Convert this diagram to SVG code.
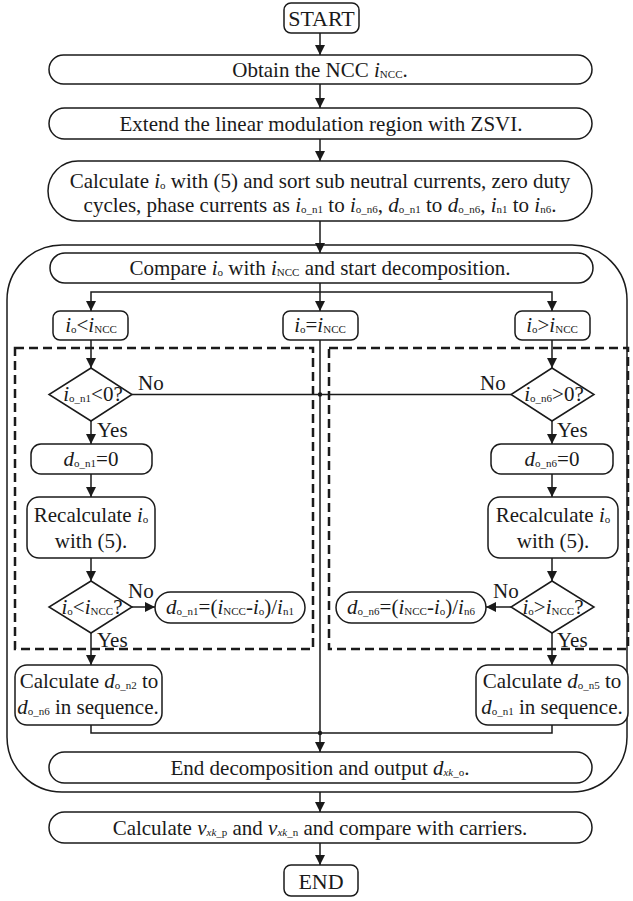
<svg xmlns="http://www.w3.org/2000/svg" width="633" height="901" viewBox="0 0 633 901">
<style>
text{font-family:"Liberation Serif","Times New Roman",serif;font-size:21px;fill:#1a1a1a}
.c{text-anchor:middle}
.i{font-style:italic}
.s{font-size:11px}
.big{font-size:22px}
.box{fill:#fff;stroke:#1a1a1a;stroke-width:1.5}
.ln{fill:none;stroke:#1a1a1a;stroke-width:1.5}
.dash{fill:none;stroke:#1a1a1a;stroke-width:2.5;stroke-dasharray:9 5}
</style>
<defs>
<marker id="ah" markerUnits="userSpaceOnUse" markerWidth="10" markerHeight="12" refX="10" refY="5" orient="auto">
<path d="M0,0 L10,5 L0,10 Z" fill="#1a1a1a"/>
</marker>
</defs>
<rect x="7" y="245" width="620" height="547" rx="55" ry="55" class="ln"/>
<rect x="15" y="348" width="298" height="301" class="dash"/>
<rect x="329" y="348" width="299" height="301" class="dash"/>
<g id="connectors">
<line x1="320" y1="33" x2="320" y2="55" class="ln" marker-end="url(#ah)"/>
<line x1="320" y1="84" x2="320" y2="108" class="ln" marker-end="url(#ah)"/>
<line x1="320" y1="139" x2="320" y2="161" class="ln" marker-end="url(#ah)"/>
<line x1="320" y1="221" x2="320" y2="253" class="ln" marker-end="url(#ah)"/>
<line x1="320" y1="283" x2="320" y2="311" class="ln" marker-end="url(#ah)"/>
<polyline points="320,292 91,292 91,311" class="ln" marker-end="url(#ah)"/>
<polyline points="320,292 552,292 552,311" class="ln" marker-end="url(#ah)"/>
<line x1="91" y1="340" x2="91" y2="368" class="ln" marker-end="url(#ah)"/>
<line x1="552" y1="340" x2="552" y2="368" class="ln" marker-end="url(#ah)"/>
<line x1="132" y1="394.5" x2="511" y2="394.5" class="ln"/>
<line x1="91" y1="421" x2="91" y2="444" class="ln" marker-end="url(#ah)"/>
<line x1="552" y1="421" x2="552" y2="444" class="ln" marker-end="url(#ah)"/>
<line x1="91" y1="474" x2="91" y2="497" class="ln" marker-end="url(#ah)"/>
<line x1="552" y1="474" x2="552" y2="497" class="ln" marker-end="url(#ah)"/>
<line x1="91" y1="558" x2="91" y2="581" class="ln" marker-end="url(#ah)"/>
<line x1="552" y1="558" x2="552" y2="581" class="ln" marker-end="url(#ah)"/>
<line x1="132" y1="607" x2="155" y2="607" class="ln" marker-end="url(#ah)"/>
<line x1="511" y1="607" x2="486" y2="607" class="ln" marker-end="url(#ah)"/>
<line x1="91" y1="633" x2="91" y2="665" class="ln" marker-end="url(#ah)"/>
<line x1="552" y1="633" x2="552" y2="665" class="ln" marker-end="url(#ah)"/>
<polyline points="91,725 91,733 552,733 552,725" class="ln"/>
<line x1="320" y1="340" x2="320" y2="752" class="ln" marker-end="url(#ah)"/>
<circle cx="320" cy="394.5" r="2.2" fill="#1a1a1a"/>
<circle cx="320" cy="733" r="2.2" fill="#1a1a1a"/>
<line x1="320" y1="792" x2="320" y2="812" class="ln" marker-end="url(#ah)"/>
<line x1="320" y1="843" x2="320" y2="865" class="ln" marker-end="url(#ah)"/>
</g>
<g id="start"><rect x="284" y="3" width="75" height="30" rx="7" class="box"/><text x="321.5" y="26" class="c big">START</text></g>
<g id="obtain"><rect x="49" y="55" width="543" height="29" rx="14.5" class="box"/><text x="320" y="77" class="c">Obtain the NCC <tspan class="i">i</tspan><tspan class="s" baseline-shift="-1">NCC</tspan>.</text></g>
<g id="extend"><rect x="49" y="108" width="543" height="31" rx="15.5" class="box"/><text x="321" y="131" class="c">Extend the linear modulation region with ZSVI.</text></g>
<g id="calc"><rect x="48" y="161" width="544" height="60" rx="30" class="box"/>
<text x="320" y="188" class="c">Calculate <tspan class="i">i</tspan><tspan class="s" baseline-shift="-1">o</tspan> with (5) and sort sub neutral currents, zero duty</text>
<text x="320" y="212" class="c">cycles, phase currents as <tspan class="i">i</tspan><tspan class="s" baseline-shift="-1">o_n1</tspan> to <tspan class="i">i</tspan><tspan class="s" baseline-shift="-1">o_n6</tspan>, <tspan class="i">d</tspan><tspan class="s" baseline-shift="-1">o_n1</tspan> to <tspan class="i">d</tspan><tspan class="s" baseline-shift="-1">o_n6</tspan>, <tspan class="i">i</tspan><tspan class="s" baseline-shift="-1">n1</tspan> to <tspan class="i">i</tspan><tspan class="s" baseline-shift="-1">n6</tspan>.</text></g>
<g id="compare"><rect x="50" y="253" width="543" height="30" rx="15" class="box"/><text x="320" y="275" class="c">Compare <tspan class="i">i</tspan><tspan class="s" baseline-shift="-1">o</tspan> with <tspan class="i">i</tspan><tspan class="s" baseline-shift="-1">NCC</tspan> and start decomposition.</text></g>
<g id="lt"><rect x="53" y="311" width="75" height="29" rx="7" class="box"/><text x="91" y="332" class="c"><tspan class="i">i</tspan><tspan class="s" baseline-shift="-1">o</tspan>&lt;<tspan class="i">i</tspan><tspan class="s" baseline-shift="-1">NCC</tspan></text></g>
<g id="eq"><rect x="283" y="311" width="75" height="29" rx="7" class="box"/><text x="320" y="332" class="c"><tspan class="i">i</tspan><tspan class="s" baseline-shift="-1">o</tspan>=<tspan class="i">i</tspan><tspan class="s" baseline-shift="-1">NCC</tspan></text></g>
<g id="gt"><rect x="515" y="311" width="75" height="29" rx="7" class="box"/><text x="552" y="332" class="c"><tspan class="i">i</tspan><tspan class="s" baseline-shift="-1">o</tspan>&gt;<tspan class="i">i</tspan><tspan class="s" baseline-shift="-1">NCC</tspan></text></g>
<g id="dl1"><polygon points="91,368 132,394.5 91,421 49,394.5" class="box"/><text x="93" y="401" class="c"><tspan class="i">i</tspan><tspan class="s" baseline-shift="-1">o_n1</tspan>&lt;0?</text>
<text x="138" y="390">No</text><text x="97" y="437">Yes</text></g>
<g id="dr1"><polygon points="552,368 594,394.5 552,421 511,394.5" class="box"/><text x="554" y="401" class="c"><tspan class="i">i</tspan><tspan class="s" baseline-shift="-1">o_n6</tspan>&gt;0?</text>
<text x="480" y="390">No</text><text x="557" y="437">Yes</text></g>
<g id="zl"><rect x="31" y="444" width="121" height="30" rx="10" class="box"/><text x="91" y="466" class="c"><tspan class="i">d</tspan><tspan class="s" baseline-shift="-1">o_n1</tspan>=0</text></g>
<g id="zr"><rect x="491" y="444" width="122" height="30" rx="10" class="box"/><text x="552" y="466" class="c"><tspan class="i">d</tspan><tspan class="s" baseline-shift="-1">o_n6</tspan>=0</text></g>
<g id="rl"><rect x="27" y="497" width="128" height="61" rx="12" class="box"/><text x="91" y="522" class="c">Recalculate <tspan class="i">i</tspan><tspan class="s" baseline-shift="-1">o</tspan></text><text x="91" y="548" class="c">with (5).</text></g>
<g id="rr"><rect x="488" y="497" width="130" height="61" rx="12" class="box"/><text x="553" y="522" class="c">Recalculate <tspan class="i">i</tspan><tspan class="s" baseline-shift="-1">o</tspan></text><text x="553" y="548" class="c">with (5).</text></g>
<g id="dl2"><polygon points="91,581 132,607 91,633 49,607" class="box"/><text x="92" y="614" class="c"><tspan class="i">i</tspan><tspan class="s" baseline-shift="-1">o</tspan>&lt;<tspan class="i">i</tspan><tspan class="s" baseline-shift="-1">NCC</tspan>?</text>
<text x="128" y="598">No</text><text x="97" y="647">Yes</text></g>
<g id="dr2"><polygon points="552,581 594,607 552,633 511,607" class="box"/><text x="553" y="614" class="c"><tspan class="i">i</tspan><tspan class="s" baseline-shift="-1">o</tspan>&gt;<tspan class="i">i</tspan><tspan class="s" baseline-shift="-1">NCC</tspan>?</text>
<text x="493" y="598">No</text><text x="557" y="647">Yes</text></g>
<g id="fl"><rect x="155" y="592" width="150" height="31" rx="15.5" class="box"/><text x="230" y="614" class="c"><tspan class="i">d</tspan><tspan class="s" baseline-shift="-1">o_n1</tspan>=(<tspan class="i">i</tspan><tspan class="s" baseline-shift="-1">NCC</tspan>-<tspan class="i">i</tspan><tspan class="s" baseline-shift="-1">o</tspan>)/<tspan class="i">i</tspan><tspan class="s" baseline-shift="-1">n1</tspan></text></g>
<g id="fr"><rect x="336" y="592" width="150" height="31" rx="15.5" class="box"/><text x="411" y="614" class="c"><tspan class="i">d</tspan><tspan class="s" baseline-shift="-1">o_n6</tspan>=(<tspan class="i">i</tspan><tspan class="s" baseline-shift="-1">NCC</tspan>-<tspan class="i">i</tspan><tspan class="s" baseline-shift="-1">o</tspan>)/<tspan class="i">i</tspan><tspan class="s" baseline-shift="-1">n6</tspan></text></g>
<g id="cl"><rect x="15" y="665" width="147" height="60" rx="12" class="box"/><text x="89" y="688" class="c">Calculate <tspan class="i">d</tspan><tspan class="s" baseline-shift="-1">o_n2</tspan> to</text><text x="88" y="714" class="c"><tspan class="i">d</tspan><tspan class="s" baseline-shift="-1">o_n6</tspan> in sequence.</text></g>
<g id="cr"><rect x="476" y="665" width="152" height="60" rx="12" class="box"/><text x="552" y="688" class="c">Calculate <tspan class="i">d</tspan><tspan class="s" baseline-shift="-1">o_n5</tspan> to</text><text x="552" y="714" class="c"><tspan class="i">d</tspan><tspan class="s" baseline-shift="-1">o_n1</tspan> in sequence.</text></g>
<g id="enddec"><rect x="49" y="752" width="543" height="31" rx="15.5" class="box"/><text x="320" y="775" class="c">End decomposition and output <tspan class="i">d</tspan><tspan class="s" baseline-shift="-1"><tspan class="i">xk</tspan>_o</tspan>.</text></g>
<g id="calcv"><rect x="49" y="812" width="543" height="31" rx="15.5" class="box"/><text x="320" y="835" class="c">Calculate <tspan class="i">v</tspan><tspan class="s" baseline-shift="-1"><tspan class="i">xk</tspan>_p</tspan> and <tspan class="i">v</tspan><tspan class="s" baseline-shift="-1"><tspan class="i">xk</tspan>_n</tspan> and compare with carriers.</text></g>
<g id="end"><rect x="284" y="865" width="74" height="31" rx="7" class="box"/><text x="321" y="889" class="c big">END</text></g>
</svg>
